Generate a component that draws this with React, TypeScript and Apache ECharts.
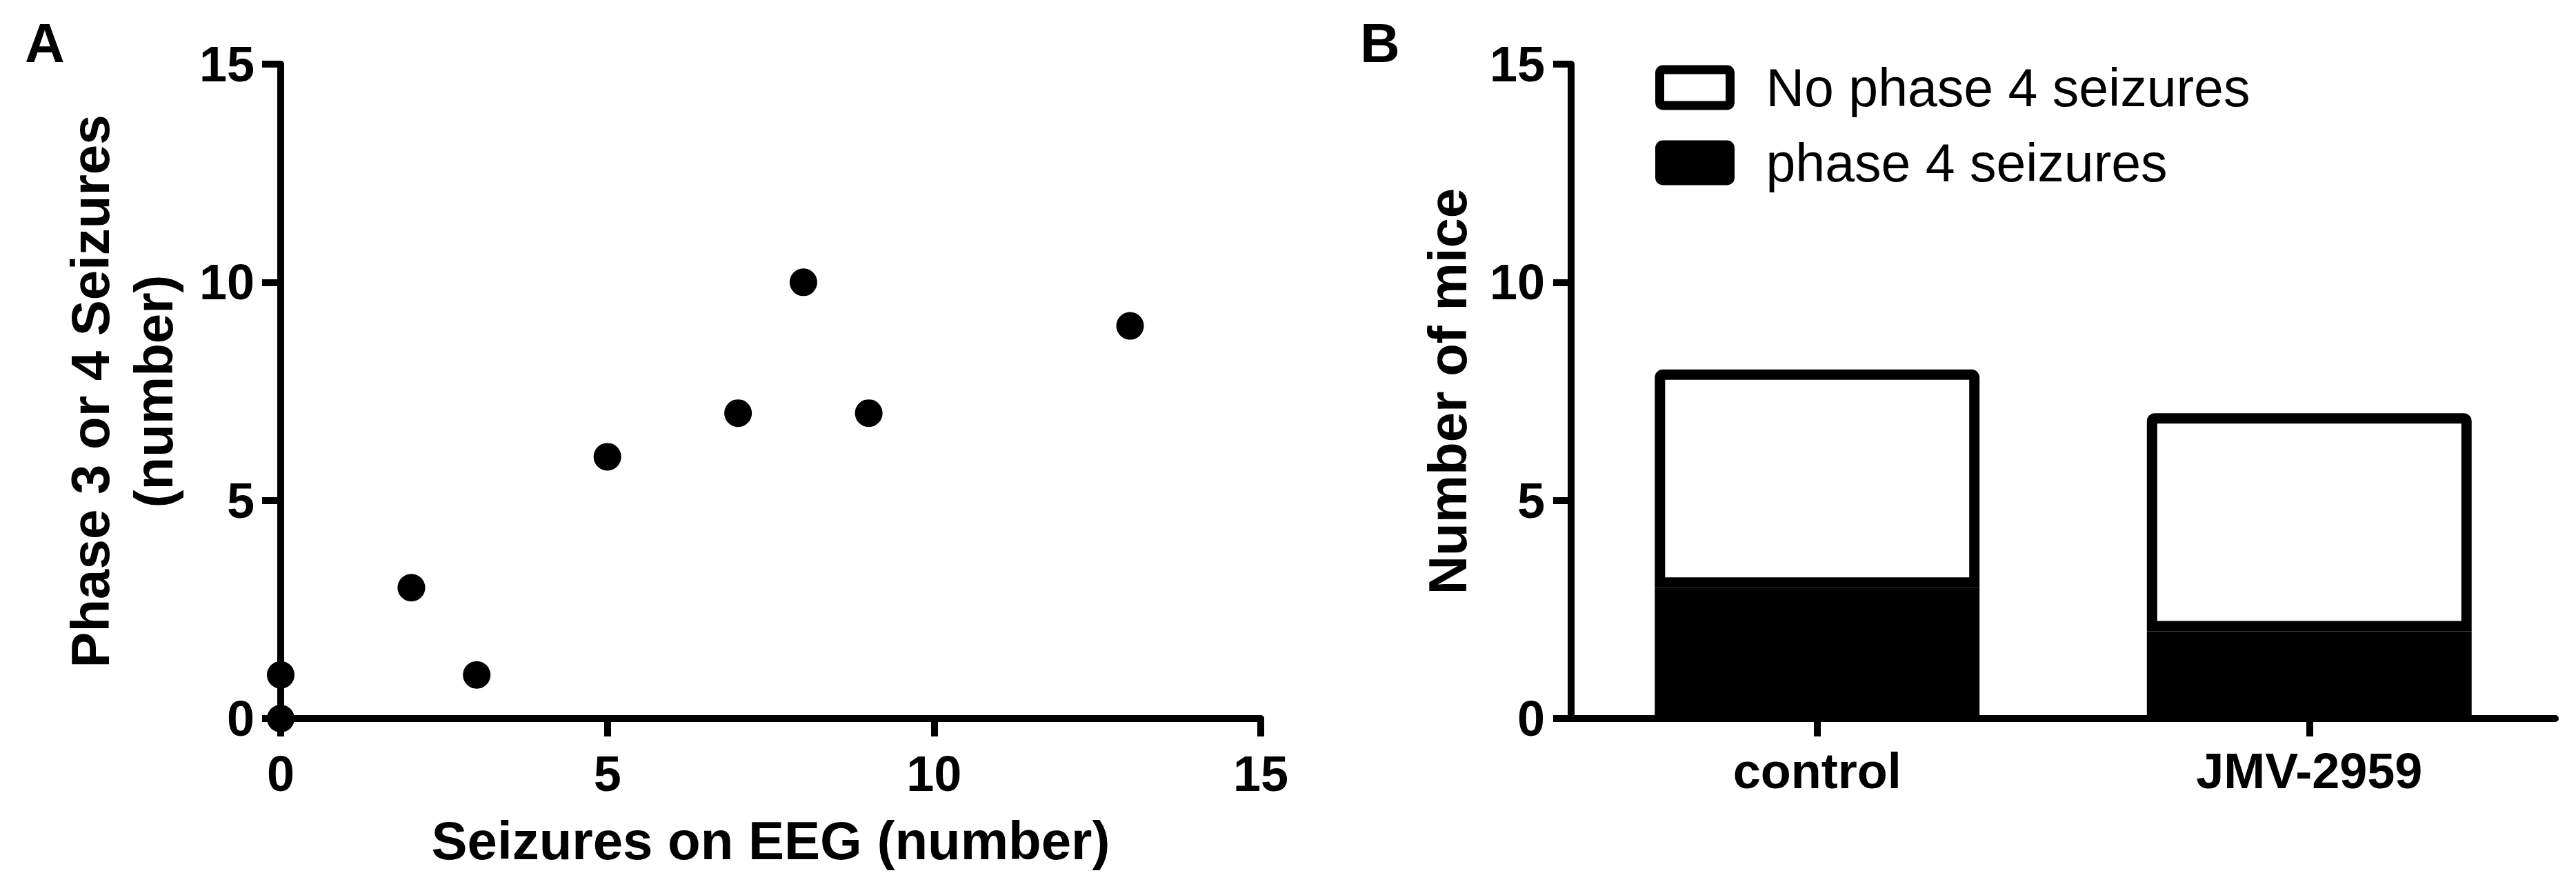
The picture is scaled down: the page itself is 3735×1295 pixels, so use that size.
import React, { useEffect, useRef } from 'react';
import * as echarts from 'echarts';

// Panel A: scatter data
const eegSeizures = [0, 0, 2, 3, 5, 7, 8, 9, 13];
const phase34Seizures = [0, 1, 3, 1, 6, 7, 10, 7, 9];

// Panel B: stacked bars
const groups = ['control', 'JMV-2959'];
const phase4Mice = [3, 2];
const noPhase4Mice = [5, 5];
const legendNames = ['No phase 4 seizures', 'phase 4 seizures'];

// Axis ranges
const axisMin = 0;
const axisMax = 15;
const axisStep = 5;

const FF = '"Liberation Sans", Arial, Helvetica, sans-serif';

const lineStyle = { color: '#000', width: 10 };
const tickLabel = { fontSize: 72, fontWeight: 'bold', color: '#000', fontFamily: FF, lineHeight: 72 };
const titleStyle = { fontSize: 78, fontWeight: 'bold', color: '#000', fontFamily: FF };

export default function App() {
  const ref = useRef<HTMLDivElement>(null);
  useEffect(() => {
    if (!ref.current) return;
    const chart = echarts.init(ref.current, null, { renderer: 'svg' });
    const option: any = {
      animation: false,
      backgroundColor: '#fff',
      textStyle: { fontFamily: FF, color: '#000' },
      grid: [
        { left: 407, top: 93, width: 1421, height: 949 },
        { left: 2278, top: 93, width: 1427, height: 949 },
      ],
      xAxis: [
        {
          gridIndex: 0, type: 'value', min: axisMin, max: axisMax, interval: axisStep,
          axisLine: { show: true, onZero: false, lineStyle },
          axisTick: { show: true, length: 26, lineStyle },
          axisLabel: { ...tickLabel, margin: 44 },
          splitLine: { show: false },
          name: 'Seizures on EEG (number)', nameLocation: 'middle', nameGap: 138,
          nameTextStyle: { ...titleStyle, lineHeight: 78 },
        },
        {
          gridIndex: 1, type: 'category', data: groups,
          axisLine: { show: true, onZero: false, lineStyle },
          axisTick: { show: true, alignWithLabel: true, length: 26, lineStyle },
          axisLabel: { ...tickLabel, margin: 40 },
          splitLine: { show: false },
        },
      ],
      yAxis: [
        {
          gridIndex: 0, type: 'value', min: axisMin, max: axisMax, interval: axisStep,
          axisLine: { show: true, onZero: false, lineStyle },
          axisTick: { show: true, length: 27, lineStyle },
          axisLabel: { ...tickLabel, margin: 38 },
          splitLine: { show: false },
          name: 'Phase 3 or 4 Seizures\n(number)', nameLocation: 'middle', nameGap: 138,
          nameTextStyle: { ...titleStyle, lineHeight: 92 },
        },
        {
          gridIndex: 1, type: 'value', min: axisMin, max: axisMax, interval: axisStep,
          axisLine: { show: true, onZero: false, lineStyle },
          axisTick: { show: true, length: 26, lineStyle },
          axisLabel: { ...tickLabel, margin: 38 },
          splitLine: { show: false },
          name: 'Number of mice', nameLocation: 'middle', nameGap: 132,
          nameTextStyle: { ...titleStyle, lineHeight: 95 },
        },
      ],
      legend: {
        data: legendNames,
        orient: 'vertical',
        left: 2400,
        top: 87,
        padding: 0,
        itemGap: 29,
        itemWidth: 102,
        itemHeight: 52,
        icon: 'path://M5,0 H97 Q102,0 102,5 V47 Q102,52 97,52 H5 Q0,52 0,47 V5 Q0,0 5,0 Z',
        itemStyle: { borderWidth: 13, borderColor: '#000' },
        selectedMode: false,
        textStyle: { fontSize: 77, fontFamily: FF, color: '#000', lineHeight: 80, padding: [0, 0, 0, 47] },
      },
      graphic: [
        { type: 'text', x: 36, y: 62, style: { text: 'A', font: `bold 80px ${FF}`, fill: '#000', align: 'left', verticalAlign: 'middle' } },
        { type: 'text', x: 1972, y: 62, style: { text: 'B', font: `bold 80px ${FF}`, fill: '#000', align: 'left', verticalAlign: 'middle' } },
      ],
      series: [
        {
          type: 'scatter', xAxisIndex: 0, yAxisIndex: 0,
          data: eegSeizures.map((x, i) => [x, phase34Seizures[i]]),
          symbol: 'circle', symbolSize: 40, clip: false,
          itemStyle: { color: '#000', opacity: 1 }, z: 5,
        },
        {
          name: 'phase 4 seizures', type: 'bar', xAxisIndex: 1, yAxisIndex: 1, stack: 'mice',
          data: phase4Mice, barWidth: '66%',
          itemStyle: { color: '#000', borderColor: '#000', borderWidth: 15 },
        },
        {
          name: 'No phase 4 seizures', type: 'bar', xAxisIndex: 1, yAxisIndex: 1, stack: 'mice',
          data: noPhase4Mice, barWidth: '66%',
          itemStyle: { color: '#fff', borderColor: '#000', borderWidth: 15, borderRadius: [4, 4, 0, 0] },
        },
      ],
    };
    chart.setOption(option);
    return () => chart.dispose();
  }, []);
  return (
    <div
      ref={ref}
      style={{ position: 'fixed', left: 0, top: 0, width: 3735, height: 1295, background: '#fff' }}
    />
  );
}
